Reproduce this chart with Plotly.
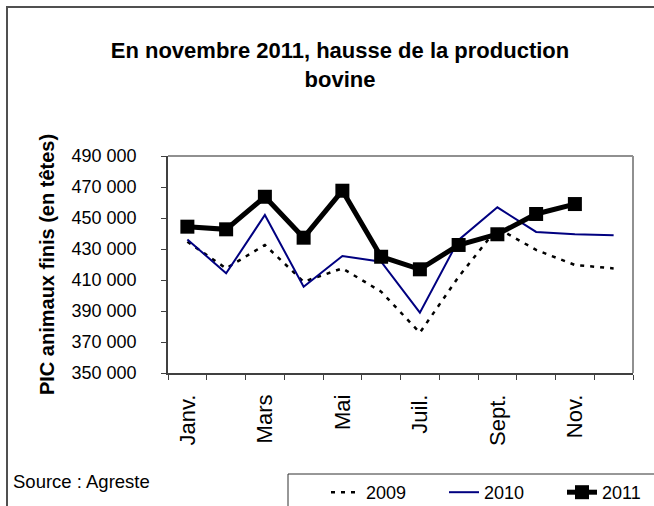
import plotly.graph_objects as go

mois = ["Janv.", "Févr.", "Mars", "Avr.", "Mai", "Juin",
        "Juil.", "Août", "Sept.", "Oct.", "Nov.", "Déc."]
prod_2009 = [434700, 417500, 432600, 408900, 417500, 402500,
             376000, 412100, 443500, 429400, 419700, 417500]
prod_2010 = [436200, 414300, 451900, 405700, 425500, 421800,
             388900, 435800, 456900, 441000, 439500, 438800]
prod_2011 = [444400, 442700, 463700, 437300, 467600, 425000,
             416900, 432600, 439500, 452600, 459000]

W, H = 654, 506
L, R, T, B = 168, 633, 156, 373
pw, ph = R - L, B - T


def px_x(x):
    return (x - L) / pw


def px_y(y):
    return (B - y) / ph


x_idx = list(range(len(mois)))
police = "Liberation Sans, Arial, sans-serif"

fig = go.Figure()
fig.add_trace(go.Scatter(
    x=x_idx[:len(prod_2009)], y=prod_2009, name="2009", mode="lines",
    line=dict(color="black", width=2.5, dash="4px,6px"),
))
fig.add_trace(go.Scatter(
    x=x_idx[:len(prod_2010)], y=prod_2010, name="2010", mode="lines",
    line=dict(color="#000080", width=2),
))
fig.add_trace(go.Scatter(
    x=x_idx[:len(prod_2011)], y=prod_2011, name="2011", mode="lines+markers",
    line=dict(color="black", width=5),
    marker=dict(symbol="square", size=14, color="black"),
))

fig.update_layout(
    width=W, height=H,
    margin=dict(l=L, r=W - R, t=T, b=H - B, autoexpand=False),
    paper_bgcolor="white", plot_bgcolor="white",
    font=dict(family=police, size=18, color="black"),
    separators=", ",
    title=dict(
        text="<b>En novembre 2011, hausse de la production<br>bovine</b>",
        x=340 / W, xanchor="center", xref="container",
        y=1 - 58 / H, yanchor="top", yref="container",
        font=dict(size=22),
    ),
    showlegend=True,
    legend=dict(
        orientation="h", x=px_x(326), xanchor="left",
        y=px_y(474), yanchor="top",
        font=dict(size=18), bgcolor="rgba(0,0,0,0)",
        entrywidth=73, entrywidthmode="pixels",
        tracegroupgap=0, itemwidth=30,
    ),
)

fig.update_xaxes(
    range=[-0.5, len(mois) - 0.5],
    tickvals=x_idx[::2], ticktext=mois[::2],
    tickangle=-90, ticks="", ticklabelstandoff=11,
    showgrid=False, zeroline=False,
    showline=True, linecolor="#404040", linewidth=1.5,
    minor=dict(tickvals=[i - 0.5 for i in range(len(mois) + 1)],
               ticks="outside", ticklen=5, tickcolor="#404040", showgrid=False),
    tickfont=dict(size=22),
)
fig.update_yaxes(
    range=[350000, 490000], tick0=350000, dtick=20000, tickformat=",d",
    ticks="outside", ticklen=5, tickcolor="#404040",
    ticklabelstandoff=21,
    showgrid=False, zeroline=False,
    showline=True, linecolor="#404040", linewidth=1.5,
    tickfont=dict(size=18),
    title=dict(text="<b>PIC animaux finis (en têtes)</b>", font=dict(size=20), standoff=12),
)

# cadre du graphique (haut et droite gris)
fig.add_shape(type="line", xref="paper", yref="paper", x0=0, x1=1, y0=1, y1=1,
              line=dict(color="#909090", width=2))
fig.add_shape(type="line", xref="paper", yref="paper", x0=1, x1=1, y0=0, y1=1,
              line=dict(color="#909090", width=2))
# cadre extérieur
fig.add_shape(type="rect", xref="paper", yref="paper",
              x0=px_x(7), x1=px_x(W + 20), y0=px_y(H + 20), y1=px_y(7),
              line=dict(color="#505050", width=2))
# cadre de la légende
fig.add_shape(type="rect", xref="paper", yref="paper",
              x0=px_x(288), x1=px_x(W + 20), y0=px_y(H + 20), y1=px_y(474),
              line=dict(color="#303030", width=1))

fig.add_annotation(
    text="Source : Agreste", xref="paper", yref="paper",
    x=px_x(11), xanchor="left", y=px_y(481), yanchor="middle",
    showarrow=False, font=dict(size=18.5),
)

fig.write_html("out.html", config={"displayModeBar": False},
               post_script="document.body.style.margin='0';")
